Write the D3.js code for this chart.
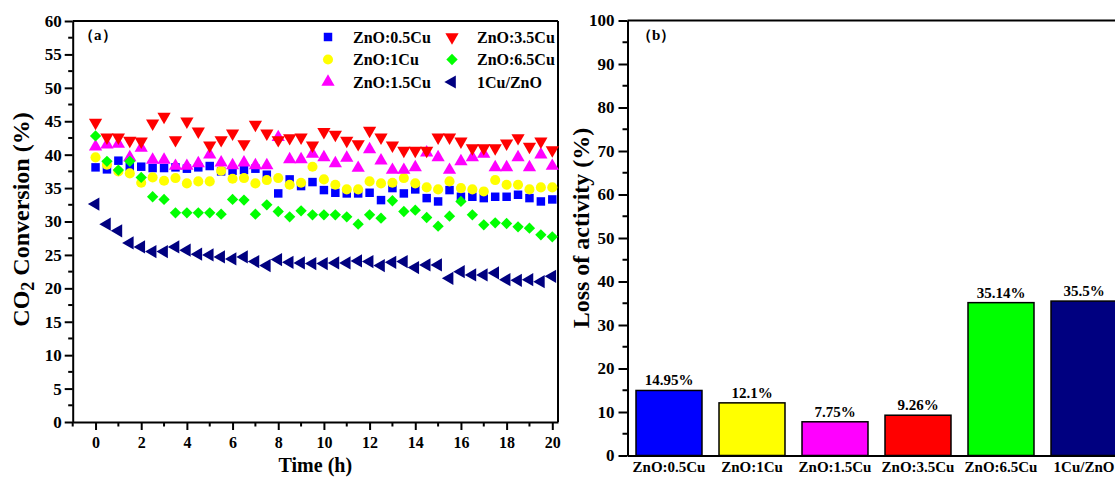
<!DOCTYPE html>
<html>
<head>
<meta charset="utf-8">
<script src="https://cdn.jsdelivr.net/npm/d3@7"></script>
<style>
  body { margin: 0; background: #fff; }
  text { font-family: "Liberation Serif", "Times New Roman", serif; font-weight: bold; fill: #000; }
</style>
</head>
<body>
<svg id="chart" width="1115" height="477"></svg>
<script>
// ---- Panel (a): CO2 conversion vs. time ----
const hours = [0, 0.5, 1, 1.5, 2, 2.5, 3, 3.5, 4, 4.5, 5, 5.5, 6, 6.5, 7, 7.5, 8, 8.5, 9, 9.5,
  10, 10.5, 11, 11.5, 12, 12.5, 13, 13.5, 14, 14.5, 15, 15.5, 16, 16.5, 17, 17.5, 18, 18.5, 19, 19.5, 20];

const znO05Cu = [38.1, 37.8, 39.1, 38.2, 38.2, 38.0, 38.0, 38.1, 37.9, 38.1, 38.3, 37.5, 37.6, 37.7, 37.9, 37.0, 34.2, 36.3, 35.3, 35.9,
  34.7, 34.3, 34.2, 34.2, 34.3, 33.2, 35.0, 34.2, 34.8, 33.5, 33.0, 34.7, 33.7, 33.7, 33.5, 33.7, 33.7, 34.0, 33.5, 33.0, 33.3];
const znO1Cu = [39.6, 38.5, 37.5, 37.2, 35.8, 36.6, 36.1, 36.5, 35.7, 36.0, 36.0, 37.6, 36.4, 36.5, 35.7, 36.2, 36.5, 35.5, 35.8, 38.2,
  36.3, 35.5, 34.8, 34.8, 36.0, 35.7, 35.8, 36.5, 35.7, 35.1, 34.8, 36.0, 35.0, 34.8, 34.5, 36.2, 35.5, 35.5, 34.8, 35.1, 35.1];
const znO15Cu = [41.2, 41.5, 41.6, 39.6, 41.0, 39.2, 39.2, 38.3, 38.3, 38.7, 40.0, 38.8, 38.4, 38.8, 38.4, 38.4, 42.6, 39.3, 39.3, 40.1,
  39.6, 38.7, 39.5, 38.0, 40.8, 39.1, 37.7, 37.7, 38.1, 40.3, 39.6, 37.7, 39.0, 39.6, 40.1, 38.1, 38.1, 39.6, 38.1, 40.0, 38.3];
const znO35Cu = [44.8, 42.6, 42.6, 42.1, 42.0, 44.7, 45.7, 42.2, 45.0, 43.5, 41.4, 42.2, 43.2, 41.6, 44.5, 43.2, 42.2, 42.5, 42.6, 41.4,
  43.4, 43.0, 42.1, 41.6, 43.6, 42.6, 41.4, 40.6, 40.6, 40.6, 42.6, 42.6, 42.0, 41.0, 41.0, 41.0, 41.7, 42.5, 41.2, 42.0, 40.7];
const znO65Cu = [42.8, 39.0, 37.7, 39.0, 36.6, 33.7, 33.3, 31.3, 31.3, 31.3, 31.3, 31.1, 33.3, 33.2, 31.1, 32.5, 31.5, 30.7, 31.6, 31.0,
  31.0, 31.0, 30.7, 29.6, 31.0, 30.5, 33.1, 31.5, 31.7, 30.6, 29.3, 30.8, 33.0, 31.0, 29.5, 29.8, 29.7, 29.2, 29.0, 28.0, 27.7];
const cu1ZnO = [32.6, 29.6, 28.6, 26.8, 26.2, 25.5, 25.5, 26.2, 25.7, 25.1, 25.0, 24.7, 24.4, 24.7, 24.0, 23.4, 24.3, 23.9, 23.8, 23.7,
  23.7, 23.8, 23.8, 24.1, 24.0, 23.4, 23.9, 24.0, 23.1, 23.5, 23.5, 21.5, 22.5, 22.0, 22.0, 22.3, 21.3, 21.2, 21.3, 21.0, 21.8];

const seriesNames = ["ZnO:0.5Cu", "ZnO:1Cu", "ZnO:1.5Cu", "ZnO:3.5Cu", "ZnO:6.5Cu", "1Cu/ZnO"];
const seriesValues = [znO05Cu, znO1Cu, znO15Cu, znO35Cu, znO65Cu, cu1ZnO];
const seriesColors = ["#0000FF", "#FFFF00", "#FF00FF", "#FF0000", "#00FF00", "#000080"];

const timeTicks = [0, 2, 4, 6, 8, 10, 12, 14, 16, 18, 20];
const convTicks = [0, 5, 10, 15, 20, 25, 30, 35, 40, 45, 50, 55, 60];

// ---- Panel (b): loss of activity ----
const samples = ["ZnO:0.5Cu", "ZnO:1Cu", "ZnO:1.5Cu", "ZnO:3.5Cu", "ZnO:6.5Cu", "1Cu/ZnO"];
const lossValues = [14.95, 12.1, 7.75, 9.26, 35.14, 35.5];
const lossLabels = ["14.95%", "12.1%", "7.75%", "9.26%", "35.14%", "35.5%"];
const lossTicks = [0, 10, 20, 30, 40, 50, 60, 70, 80, 90, 100];

const svg = d3.select("#chart");

function styleAxis(g, fontSize) {
  g.select(".domain").attr("stroke", "#000").attr("stroke-width", 2);
  g.selectAll(".tick line").attr("stroke", "#000").attr("stroke-width", 2);
  g.selectAll(".tick text")
    .style("font-family", '"Liberation Serif", "Times New Roman", serif')
    .style("font-weight", "bold").style("font-size", fontSize + "px").attr("fill", "#000");
}
function minorTicks(g, values, horizontal, len) {
  g.selectAll(".minor").data(values).join("line").attr("class", "minor")
    .attr("stroke", "#000").attr("stroke-width", 2)
    .each(function (d) {
      const s = d3.select(this);
      if (horizontal) s.attr("x1", d.x).attr("x2", d.x).attr("y1", d.y).attr("y2", d.y + len);
      else s.attr("x1", d.x).attr("x2", d.x - len).attr("y1", d.y).attr("y2", d.y);
    });
}

// ===== Panel (a) =====
const xA = d3.scaleLinear().domain([-1, 20.25]).range([72.7, 558]);
const yA = d3.scaleLinear().domain([0, 60]).range([422, 21]);

// frame (top and right)
svg.append("line").attr("x1", xA.range()[0]).attr("x2", xA.range()[1]).attr("y1", yA(60)).attr("y2", yA(60))
  .attr("stroke", "#000").attr("stroke-width", 2);
svg.append("line").attr("x1", xA.range()[1]).attr("x2", xA.range()[1]).attr("y1", yA(60)).attr("y2", yA(0))
  .attr("stroke", "#000").attr("stroke-width", 2);

const gxA = svg.append("g").attr("transform", `translate(0,${yA(0)})`)
  .call(d3.axisBottom(xA).tickValues(timeTicks).tickSize(8).tickSizeOuter(0).tickPadding(7));
styleAxis(gxA, 16);
const minorTimes = timeTicks.map(t => t - 1);
minorTicks(svg.append("g"), minorTimes.map(t => ({ x: xA(t), y: yA(0) })), true, 4.5);

const gyA = svg.append("g").attr("transform", `translate(${xA(-1)},0)`)
  .call(d3.axisLeft(yA).tickValues(convTicks).tickSize(8).tickSizeOuter(0).tickPadding(3));
styleAxis(gyA, 17);
const minorConv = convTicks.slice(1).map(v => v - 2.5);
minorTicks(svg.append("g"), minorConv.map(v => ({ x: xA(-1), y: yA(v) })), false, 4.5);

// axis titles
svg.append("text").attr("x", (xA(-1) + xA(20.25)) / 2).attr("y", 471.5).attr("text-anchor", "middle")
  .style("font-size", "20px").text("Time (h)");
const yTitleA = svg.append("text").attr("transform", `translate(29,${(yA(0) + yA(60)) / 2 - 2}) rotate(-90)`)
  .attr("text-anchor", "middle").style("font-size", "24px");
yTitleA.append("tspan").text("CO");
yTitleA.append("tspan").attr("dy", 5).style("font-size", "18px").text("2");
yTitleA.append("tspan").attr("dy", -5).text(" Conversion (%)");

svg.append("text").attr("x", 79).attr("y", 40).style("font-size", "15px").text("（a）");

// marker shapes
const triUp = d3.symbol().type(d3.symbolTriangle).size(76);
const shapes = [
  { path: d3.symbol().type(d3.symbolSquare).size(72)(), rot: 0 },
  { path: d3.symbol().type(d3.symbolCircle).size(80)(), rot: 0 },
  { path: triUp(), rot: 0 },
  { path: triUp(), rot: 180 },
  { path: d3.symbol().type(d3.symbolSquare).size(64)(), rot: 45 },
  { path: triUp(), rot: -90 }
];

seriesValues.forEach((vals, si) => {
  svg.append("g").selectAll("path").data(vals).join("path")
    .attr("d", shapes[si].path)
    .attr("transform", (d, i) => `translate(${xA(hours[i])},${yA(d)}) rotate(${shapes[si].rot})`)
    .attr("fill", seriesColors[si]);
});

// legend
const legendCols = [328, 452];
const legendRows = [37, 59.5, 82];
seriesNames.forEach((name, si) => {
  const cx = legendCols[Math.floor(si / 3)];
  const cy = legendRows[si % 3];
  svg.append("path").attr("d", shapes[si].path)
    .attr("transform", `translate(${cx},${cy}) rotate(${shapes[si].rot})`)
    .attr("fill", seriesColors[si]);
  svg.append("text").attr("x", cx + 25).attr("y", cy + 5.5).style("font-size", "16px").text(name);
});

// ===== Panel (b) =====
const xB = d3.scaleBand().domain(samples).range([627.5, 627.5 + 6 * 83]).paddingInner(0.205).paddingOuter(0.1025);
const yB = d3.scaleLinear().domain([0, 100]).range([455.5, 20.5]);

svg.append("line").attr("x1", 627.5).attr("x2", 1115).attr("y1", yB(100)).attr("y2", yB(100))
  .attr("stroke", "#000").attr("stroke-width", 2);

svg.append("g").selectAll("rect").data(lossValues).join("rect")
  .attr("x", (d, i) => xB(samples[i]))
  .attr("width", xB.bandwidth())
  .attr("y", d => yB(d))
  .attr("height", d => yB(0) - yB(d))
  .attr("fill", (d, i) => seriesColors[i])
  .attr("stroke", "#000").attr("stroke-width", 1.5);

svg.append("g").selectAll("text").data(lossValues).join("text")
  .attr("x", (d, i) => xB(samples[i]) + xB.bandwidth() / 2)
  .attr("y", d => yB(d) - 5)
  .attr("text-anchor", "middle").style("font-size", "15px")
  .text((d, i) => lossLabels[i]);

const gxB = svg.append("g").attr("transform", `translate(0,${yB(0)})`)
  .call(d3.axisBottom(xB).tickSize(0).tickSizeOuter(0).tickPadding(6));
styleAxis(gxB, 15);
gxB.selectAll(".tick text").attr("dy", "0.71em");

const gyB = svg.append("g").attr("transform", `translate(627.5,0)`)
  .call(d3.axisLeft(yB).tickValues(lossTicks).tickSize(9).tickSizeOuter(0).tickPadding(4));
styleAxis(gyB, 17);
const minorLoss = lossTicks.slice(1).map(v => v - 5);
minorTicks(svg.append("g"), minorLoss.map(v => ({ x: 627.5, y: yB(v) })), false, 5);

svg.append("text").attr("transform", `translate(589,228) rotate(-90)`)
  .attr("text-anchor", "middle").style("font-size", "24px").text("Loss of activity (%)");

svg.append("text").attr("x", 637).attr("y", 40).style("font-size", "15px").text("（b）");
</script>
</body>
</html>
